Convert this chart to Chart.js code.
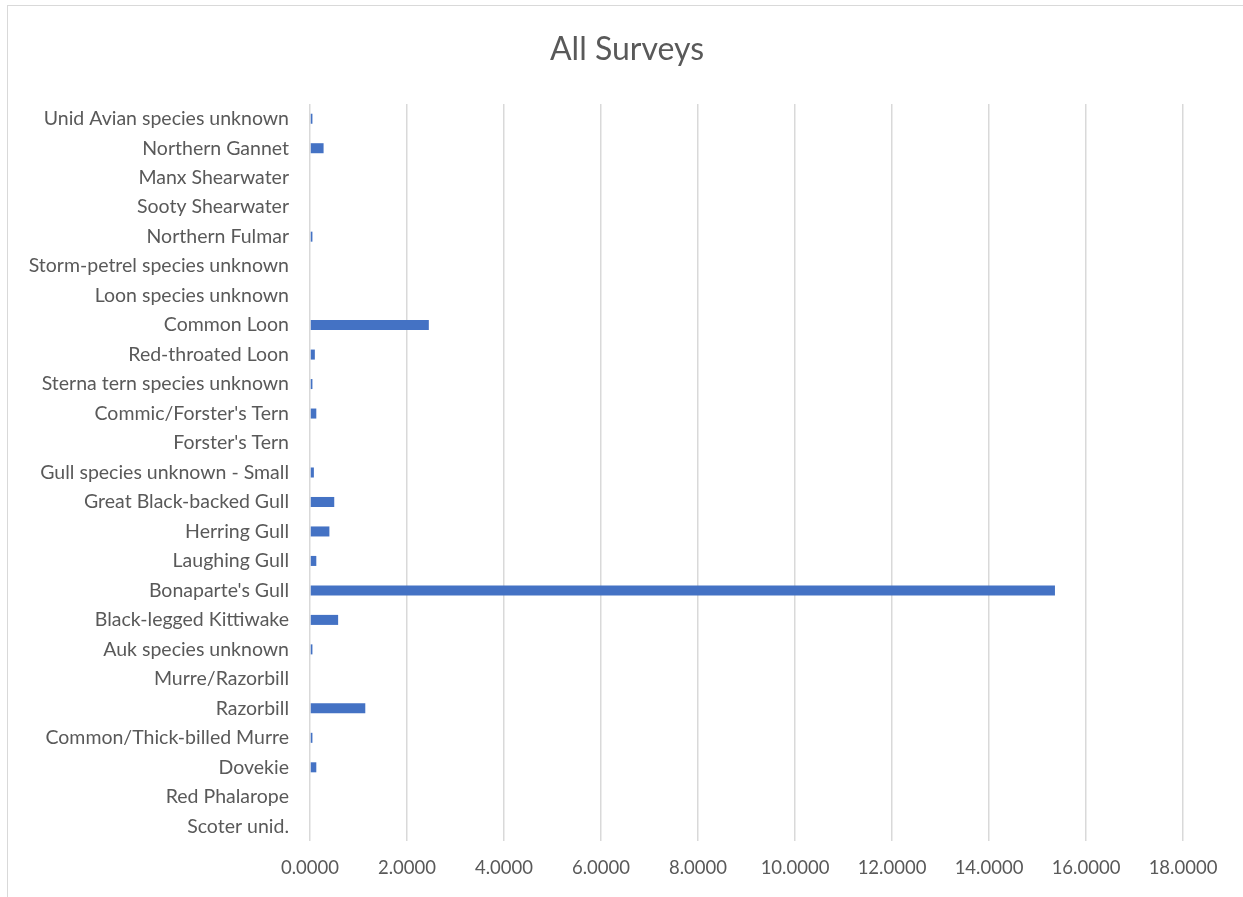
<!DOCTYPE html>
<html>
<head>
<meta charset="utf-8">
<script src="https://cdn.jsdelivr.net/npm/chart.js@4.4.1/dist/chart.umd.min.js"></script>
<style>
  html, body { margin: 0; padding: 0; background: #ffffff; overflow: hidden; }
  #frame { position: absolute; left: 7px; top: 5px; width: 1300px; height: 1000px;
           border: 1px solid #d9d9d9; box-sizing: border-box; }
  #wrap { position: absolute; left: 0; top: 0; width: 1243px; height: 897px; }
</style>
</head>
<body>
<div id="frame"></div>
<div id="wrap"><canvas id="chart" width="1243" height="897"></canvas></div>
<script>
// Species, listed top to bottom as they appear on the axis
const species = [
  "Unid Avian species unknown",
  "Northern Gannet",
  "Manx Shearwater",
  "Sooty Shearwater",
  "Northern Fulmar",
  "Storm-petrel species unknown",
  "Loon species unknown",
  "Common Loon",
  "Red-throated Loon",
  "Sterna tern species unknown",
  "Commic/Forster's Tern",
  "Forster's Tern",
  "Gull species unknown - Small",
  "Great Black-backed Gull",
  "Herring Gull",
  "Laughing Gull",
  "Bonaparte's Gull",
  "Black-legged Kittiwake",
  "Auk species unknown",
  "Murre/Razorbill",
  "Razorbill",
  "Common/Thick-billed Murre",
  "Dovekie",
  "Red Phalarope",
  "Scoter unid."
];

// Value per species across all surveys
const allSurveys = [
  0.05, 0.28, 0, 0, 0.05, 0, 0, 2.45, 0.10, 0.05,
  0.13, 0, 0.08, 0.50, 0.40, 0.13, 15.36, 0.58, 0.05, 0,
  1.14, 0.05, 0.13, 0, 0
];

// Value axis ticks
const xTicks = [0, 2, 4, 6, 8, 10, 12, 14, 16, 18];

const chartTitle = "All Surveys";
const textColor = "#595959";
const gridColor = "#d9d9d9";
const fontFamily = "Lato, 'Open Sans', sans-serif";

// Title centred across the whole chart box rather than the plot area
const titlePlugin = {
  id: "boxTitle",
  afterDraw(chart) {
    const ctx = chart.ctx;
    ctx.save();
    ctx.fillStyle = textColor;
    ctx.font = "normal 32px " + fontFamily;
    ctx.textAlign = "center";
    ctx.textBaseline = "middle";
    ctx.fillText(chartTitle, 627, 50);
    ctx.restore();
  }
};

new Chart(document.getElementById("chart"), {
  type: "bar",
  data: {
    labels: species,
    datasets: [{
      label: chartTitle,
      data: allSurveys,
      backgroundColor: "#4472c4",
      borderWidth: 0,
      categoryPercentage: 1.0,
      barPercentage: 0.34
    }]
  },
  options: {
    indexAxis: "y",
    responsive: false,
    animation: false,
    layout: { padding: { left: 0, right: 60, top: 104, bottom: 0 } },
    plugins: {
      legend: { display: false },
      tooltip: { enabled: false },
      title: { display: false }
    },
    scales: {
      x: {
        min: xTicks[0],
        max: xTicks[xTicks.length - 1],
        afterBuildTicks: (scale) => { scale.ticks = xTicks.map(v => ({ value: v })); },
        afterFit: (scale) => { scale.height = 56; },
        grid: { color: gridColor, lineWidth: 1.5, drawTicks: false },
        border: { display: false },
        ticks: {
          color: textColor,
          font: { family: fontFamily, size: 18.5 },
          padding: 16,
          maxRotation: 0,
          callback: (v) => Number(v).toFixed(4)
        }
      },
      y: {
        afterFit: (scale) => { scale.width = 310; },
        grid: { display: false, drawTicks: false },
        border: { display: false },
        ticks: {
          color: textColor,
          font: { family: fontFamily, size: 19.5 },
          padding: 21,
          autoSkip: false
        }
      }
    }
  },
  plugins: [titlePlugin]
});
</script>
</body>
</html>
